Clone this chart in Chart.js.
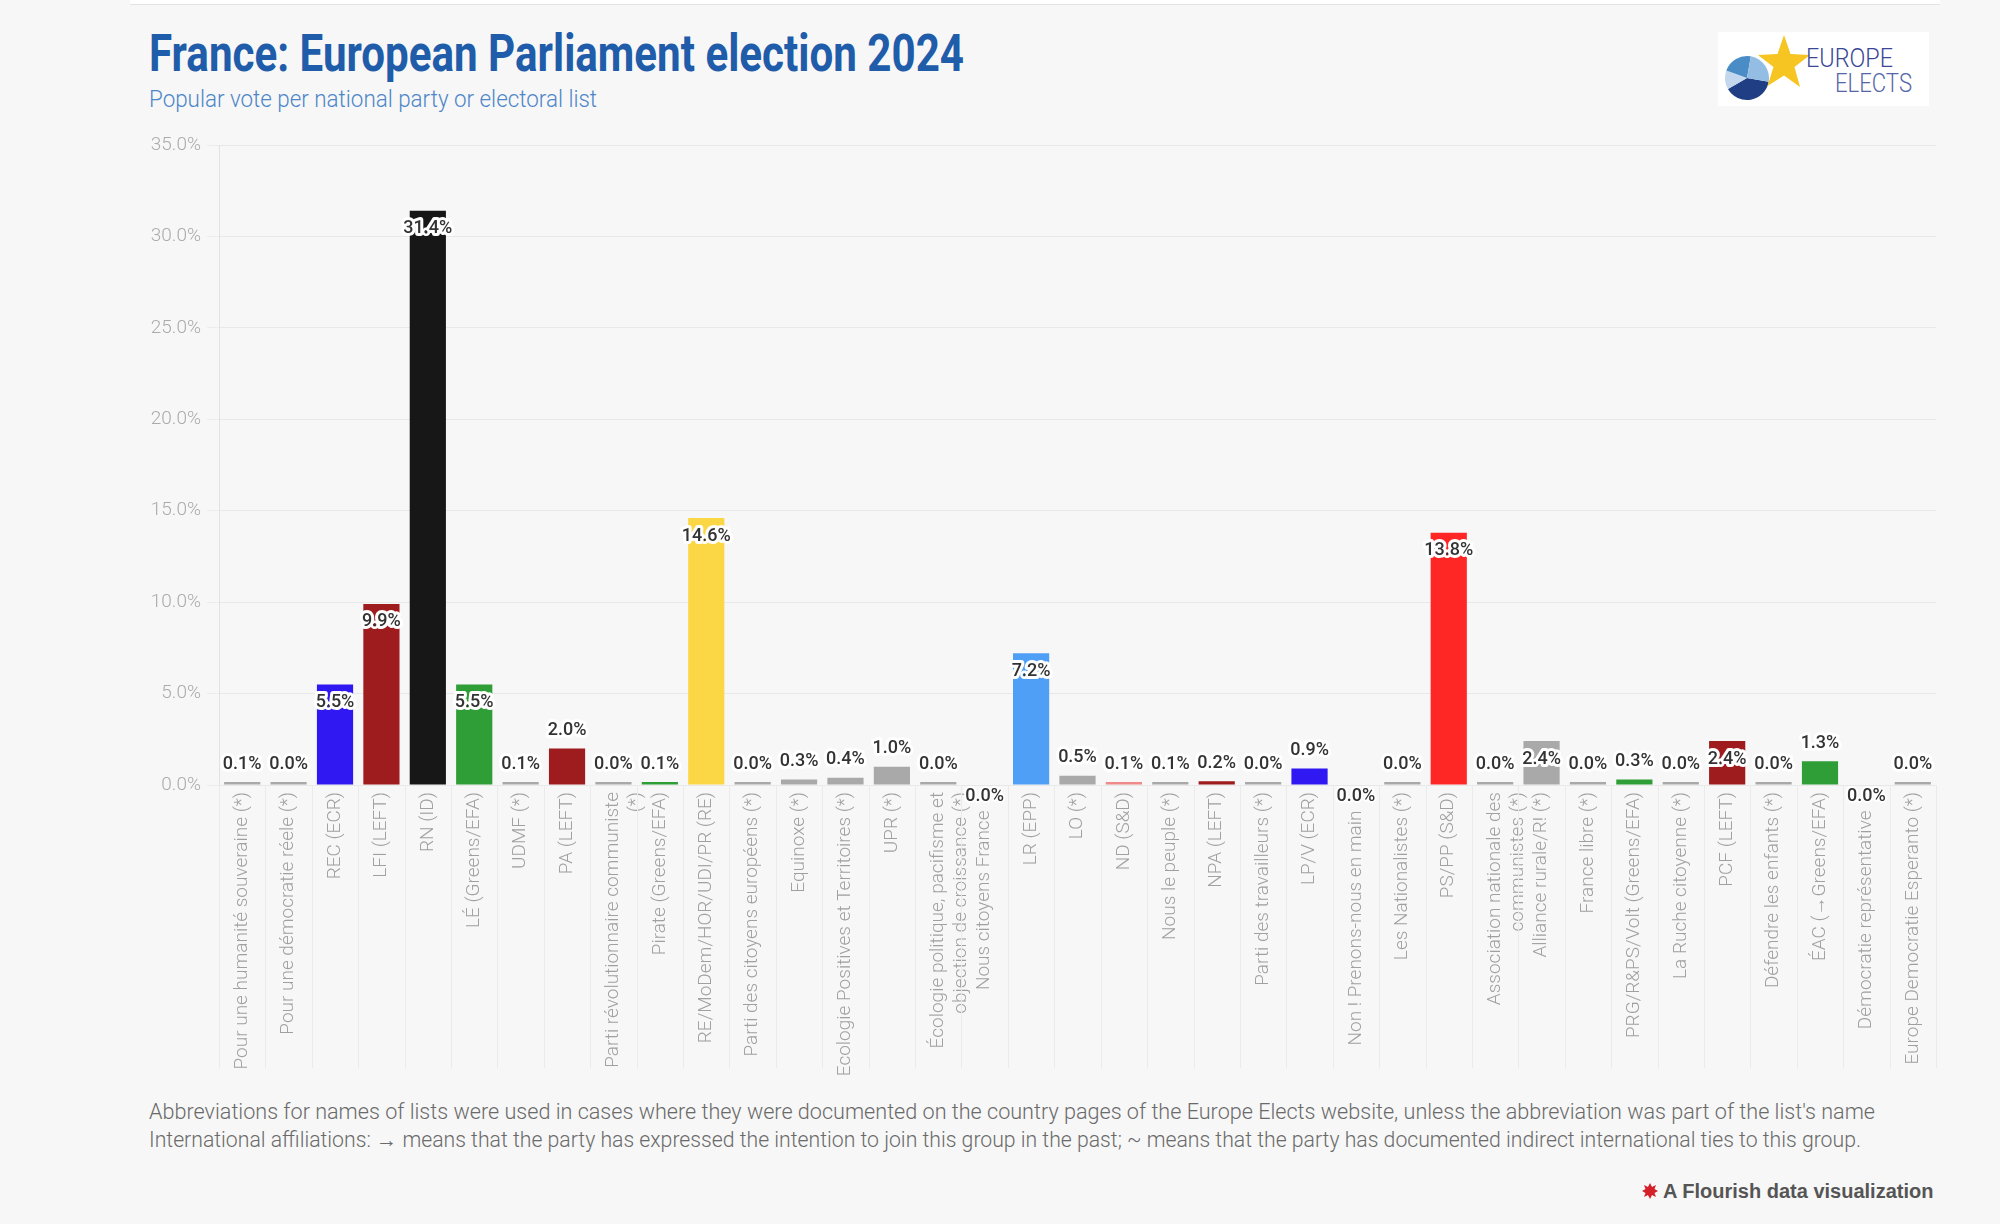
<!DOCTYPE html>
<html><head><meta charset="utf-8">
<script src="https://cdn.jsdelivr.net/npm/chart.js@4.4.1/dist/chart.umd.min.js"></script>
<style>
html,body{margin:0;padding:0;background:#f7f7f7;width:2000px;height:1224px;overflow:hidden;font-family:Roboto,sans-serif;}
#topband{position:absolute;left:130px;top:0;width:1810px;height:4px;background:#fff;border-bottom:1px solid #e3e3e3;}
#title{position:absolute;left:149px;top:23px;font:700 52px Roboto;color:#1f5ca9;white-space:nowrap;transform-origin:0 0;line-height:normal;}
#subtitle{position:absolute;left:149px;top:86px;font:300 23px Roboto;color:#4d86c8;white-space:nowrap;transform-origin:0 0;line-height:normal;}
#wrap{position:absolute;left:100px;top:120px;width:1860px;height:960px;}
.foot{position:absolute;left:149px;font:300 22px Roboto;color:#6a6a6a;white-space:nowrap;transform-origin:0 0;line-height:normal;}
#flourish{position:absolute;left:1663px;top:1180px;font:bold 20px 'Liberation Sans',Arial,sans-serif;color:#555;white-space:nowrap;line-height:normal;transform-origin:0 0;}
#ficon{position:absolute;left:1641px;top:1182px;}
#logo{position:absolute;left:1718px;top:32px;width:211px;height:74px;background:#fff;}
</style></head>
<body>
<div id="topband"></div>
<div id="title">France: European Parliament election 2024</div>
<div id="subtitle">Popular vote per national party or electoral list</div>
<div id="logo">
<svg width="211" height="74" viewBox="0 0 211 74">
  <g transform="translate(29,46)">
    <path d="M0 0 L21.67 3.82 A22 22 0 0 1 -19.05 11 Z" fill="#1f3e84"/>
    <path d="M0 0 L-19.05 11 A22 22 0 0 1 -20.67 -7.52 Z" fill="#c3d8ee"/>
    <path d="M0 0 L-20.67 -7.52 A22 22 0 0 1 3.82 -21.67 Z" fill="#4a8cc6"/>
    <path d="M0 0 L3.82 -21.67 A22 22 0 0 1 21.67 3.82 Z" fill="#93bde3"/>
  </g>
  <polygon points="66,3 72.5,22 92,23 76.5,35 82,55 66,43.5 49.5,54 55.5,35 40,23 59.5,22" fill="#f6c522"/>
  <text x="88" y="35" font-family="Roboto" font-weight="300" font-size="25" fill="#3a4796" textLength="87" lengthAdjust="spacingAndGlyphs">EUROPE</text>
  <text x="117" y="60" font-family="Roboto" font-weight="300" font-size="25" fill="#5566a8" textLength="77" lengthAdjust="spacingAndGlyphs">ELECTS</text>
</svg>
</div>
<div id="wrap"><canvas id="c" width="1860" height="960"></canvas></div>
<div class="foot" id="foot1" style="top:1099px">Abbreviations for names of lists were used in cases where they were documented on the country pages of the Europe Elects website, unless the abbreviation was part of the list's name</div>
<div class="foot" id="foot2" style="top:1127px">International affiliations: → means that the party has expressed the intention to join this group in the past; ~ means that the party has documented indirect international ties to this group.</div>
<svg id="ficon" width="18" height="18" viewBox="-9 -9 18 18">
  <polygon points="0,-8 2,-4 6,-6 4.5,-2 8,0 4.5,2 6,6 2,4 0,8 -2,4 -6,6 -4.5,2 -8,0 -4.5,-2 -6,-6 -2,-4" fill="#d4202a"/>
  <circle r="4.5" fill="#d4202a"/>
</svg>
<div id="flourish">A Flourish data visualization</div>
<script>
const categories = [
  "Pour une humanité souveraine (*)",
  "Pour une démocratie réele (*)",
  "REC (ECR)",
  "LFI (LEFT)",
  "RN (ID)",
  "LÉ (Greens/EFA)",
  "UDMF (*)",
  "PA (LEFT)",
  ["Parti révolutionnaire communiste", "(*)"],
  "Pirate (Greens/EFA)",
  "RE/MoDem/HOR/UDI/PR (RE)",
  "Parti des citoyens européens (*)",
  "Equinoxe (*)",
  "Ecologie Positives et Territoires (*)",
  "UPR (*)",
  ["Écologie politique, pacifisme et", "objection de croissance (*)"],
  "Nous citoyens France",
  "LR (EPP)",
  "LO (*)",
  "ND (S&D)",
  "Nous le peuple (*)",
  "NPA (LEFT)",
  "Parti des travailleurs (*)",
  "LP/V (ECR)",
  "Non ! Prenons-nous en main",
  "Les Nationalistes (*)",
  "PS/PP (S&D)",
  ["Association nationale des", "communistes (*)"],
  "Alliance rurale/R! (*)",
  "France libre (*)",
  "PRG/R&PS/Volt (Greens/EFA)",
  "La Ruche citoyenne (*)",
  "PCF (LEFT)",
  "Défendre les enfants (*)",
  "ÉAC (→Greens/EFA)",
  "Démocratie représentative",
  "Europe Democratie Esperanto (*)"
];
const voteShare = [
  0.1, 0.03, 5.5, 9.9, 31.4, 5.5, 0.1, 2.0, 0.03, 0.1,
  14.6, 0.03, 0.3, 0.4, 1.0, 0.03, 0, 7.2, 0.5, 0.1,
  0.1, 0.2, 0.03, 0.9, 0, 0.03, 13.8, 0.03, 2.4, 0.03,
  0.3, 0.03, 2.4, 0.03, 1.3, 0, 0.03
];
const yTickValues = [0, 5, 10, 15, 20, 25, 30, 35];

const GREY = '#a9a9a9', BLUE = '#3018f2', DRED = '#9e1b1e', BLACK = '#171717',
      GREEN = '#2f9e37', YELLOW = '#fcd745', LBLUE = '#4f9ff7', PINK = '#f08a8a', RED = '#ff2626';
const partyColors = [
  GREY, GREY, BLUE, DRED, BLACK, GREEN, GREY, DRED, GREY, GREEN,
  YELLOW, GREY, GREY, GREY, GREY, GREY, GREY, LBLUE, GREY, PINK,
  GREY, DRED, GREY, BLUE, GREY, GREY, RED, GREY, GREY, GREY,
  GREEN, GREY, DRED, GREY, GREEN, GREY, GREY
];

function fit(id, w) {
  const el = document.getElementById(id);
  const cw = el.getBoundingClientRect().width;
  el.style.transform = 'scaleX(' + (w / cw) + ')';
}
fit('title', 815);
fit('subtitle', 448);
fit('foot1', 1726);
fit('foot2', 1712);

const separators = {
  id: 'separators',
  afterDraw(chart) {
    const xs = chart.scales.x, ctx = chart.ctx;
    ctx.save();
    ctx.strokeStyle = '#ebebeb';
    ctx.lineWidth = 1;
    for (let i = 0; i <= categories.length; i++) {
      const x = Math.round(xs.getPixelForValue(i - 0.5)) + 0.5;
      ctx.beginPath();
      ctx.moveTo(x, chart.chartArea.bottom);
      ctx.lineTo(x, xs.bottom - 12);
      ctx.stroke();
    }
    ctx.restore();
  }
};

const valueLabels = {
  id: 'valueLabels',
  afterDatasetsDraw(chart) {
    const ctx = chart.ctx, meta = chart.getDatasetMeta(0);
    const base = chart.scales.y.getPixelForValue(0);
    ctx.save();
    ctx.font = '500 18px Roboto';
    ctx.textAlign = 'center';
    ctx.textBaseline = 'middle';
    ctx.lineJoin = 'round';
    ctx.strokeStyle = '#ffffff';
    ctx.fillStyle = '#333333';
    meta.data.forEach((el, i) => {
      const v = voteShare[i];
      const txt = v.toFixed(1) + '%';
      const h = base - el.y;
      let y;
      ctx.lineWidth = 6;
      if (v === 0) { y = base + 11; ctx.lineWidth = 4; }
      else if (h > 40) y = el.y + 18;
      else y = Math.min(el.y, base - 3) - 18;
      ctx.strokeText(txt, el.x, y);
      ctx.fillText(txt, el.x, y);
    });
    ctx.restore();
  }
};

new Chart(document.getElementById('c'), {
  type: 'bar',
  data: {
    labels: categories,
    datasets: [{
      data: voteShare,
      backgroundColor: c => voteShare[c.dataIndex] === 0 ? 'rgba(0,0,0,0)' : partyColors[c.dataIndex],
      barPercentage: 0.78,
      categoryPercentage: 1,
      minBarLength: 3,
      borderWidth: 0
    }]
  },
  options: {
    responsive: false,
    animation: false,
    events: [],
    layout: { padding: { top: 25, right: 24, left: 0, bottom: 0 } },
    plugins: { legend: { display: false }, tooltip: { enabled: false } },
    scales: {
      x: {
        ticks: {
          autoSkip: false, maxRotation: 90, minRotation: 90,
          font: { family: 'Roboto', size: 19, weight: 300 },
          color: '#a0a0a0', padding: 7,
          callback: (v, i) => {
            const lab = categories[i];
            // labels of exact-zero lists sit below their value label
            return voteShare[i] === 0 ? lab + '    ' : lab;
          }
        },
        grid: { display: false, drawTicks: false },
        border: { display: false },
        afterFit: s => { s.height = 295; }
      },
      y: {
        min: 0, max: 35,
        afterBuildTicks: s => { s.ticks = yTickValues.map(v => ({ value: v })); },
        ticks: {
          callback: v => Number(v).toFixed(1) + '%',
          font: { family: 'Roboto', size: 19, weight: 300 },
          color: '#ababab', padding: 6
        },
        grid: { color: '#e8e8e8', drawTicks: true, tickLength: 12, tickColor: '#ececec' },
        border: { display: true, color: '#e2e2e2' },
        afterFit: s => { s.width = 119; }
      }
    }
  },
  plugins: [separators, valueLabels]
});
</script>
</body></html>
